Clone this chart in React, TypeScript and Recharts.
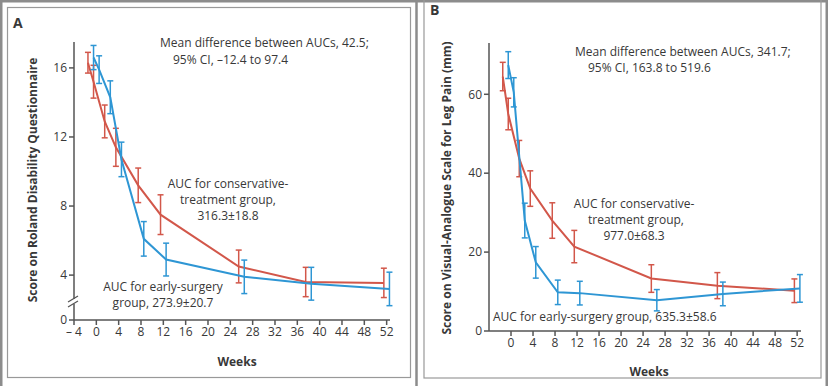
import { LineChart, Line, XAxis, YAxis, ErrorBar } from 'recharts';

// nominal visit weeks, nudged apart so the error bars do not overlap
const WEEKS_CONSERVATIVE = [-1.5, -0.5, 1.5, 3.5, 7.5, 11.5, 25.5, 37.5, 51.5];
const WEEKS_SURGERY = [-0.5, 0.5, 2.5, 4.5, 8.5, 12.5, 26.5, 38.5, 52.5];

// Panel A: Roland Disability Questionnaire
const RDQ_CONSERVATIVE = [16.3, 15.2, 12.9, 11.4, 9.2, 7.5, 4.5, 3.6, 3.55];
const RDQ_CONSERVATIVE_ERR = [0.6, 0.95, 0.95, 1.1, 1.0, 1.15, 0.95, 0.85, 0.85];
const RDQ_SURGERY = [16.6, 15.9, 14.3, 10.7, 6.1, 4.9, 3.9, 3.5, 3.2];
const RDQ_SURGERY_ERR = [0.7, 0.8, 0.95, 1.0, 1.0, 0.95, 0.97, 0.95, 0.97];

// Panel B: visual-analogue scale for leg pain (mm)
const VAS_CONSERVATIVE = [64.5, 55, 43.7, 36.1, 28, 21.4, 13.3, 11.5, 10.2];
const VAS_CONSERVATIVE_ERR = [3.6, 4.0, 4.6, 4.5, 4.5, 4.1, 3.5, 3.3, 3.0];
const VAS_SURGERY = [67.4, 60.5, 28, 17.4, 9.8, 9.6, 7.8, 9.4, 10.8];
const VAS_SURGERY_ERR = [3.4, 3.7, 4.4, 4.0, 3.1, 3.0, 2.7, 3.0, 3.5];

const X_TICKS_A = [-4, 0, 4, 8, 12, 16, 20, 24, 28, 32, 36, 40, 44, 48, 52];
const X_TICKS_B = [0, 4, 8, 12, 16, 20, 24, 28, 32, 36, 40, 44, 48, 52];
// the A axis is broken below 4; its floor is labelled 0
const RDQ_FLOOR = 1.4;
const Y_TICKS_A = [RDQ_FLOOR, 4, 8, 12, 16];
const Y_TICKS_B = [0, 20, 40, 60];

const RED = '#d2574a';
const BLUE = '#2e96d4';
const AXIS = '#555';
const TEXT = '#383838';
const FONT = '"Open Sans", sans-serif';

const rows = (weeks: number[], vals: number[], errs: number[]) =>
  weeks.map((w, i) => ({ week: w, value: vals[i], err: errs[i] }));

const tickStyle = { fill: TEXT, fontSize: 12, fontFamily: FONT };

function Series({ data, color }: { data: any[]; color: string }) {
  return (
    <Line
      data={data}
      dataKey="value"
      type="linear"
      stroke={color}
      strokeWidth={2}
      dot={false}
      isAnimationActive={false}
    >
      <ErrorBar dataKey="err" direction="y" width={3} stroke={color} strokeWidth={1.5} />
    </Line>
  );
}

function Overlay() {
  const t = { fontFamily: FONT, fontSize: 12, fill: TEXT };
  const b = { fontFamily: FONT, fontSize: 12, fontWeight: 700, fill: TEXT };
  return (
    <svg
      width={828}
      height={386}
      style={{ position: 'absolute', left: 0, top: 0, pointerEvents: 'none' }}
    >
      {/* frames */}
      <rect x={1.25} y={1.25} width={825.5} height={400} fill="none" stroke="#8c8c8c" strokeWidth={2.5} />
      <rect x={7.5} y={7.5} width={403} height={370} fill="none" stroke="#999" strokeWidth={1.2} />
      <rect x={424} y={-5} width={397} height={383} fill="none" stroke="#999" strokeWidth={1.2} />
      <line x1={416.5} y1={0} x2={416.5} y2={386} stroke="#8c8c8c" strokeWidth={2.5} />

      <text x={13} y={28} style={{ ...b, fontSize: 14 }}>A</text>
      <text x={430} y={15} style={{ ...b, fontSize: 14 }}>B</text>

      {/* axis break */}
      <rect x={69} y={299} width={10} height={5} fill="#fff" />
      <line x1={68} y1={302} x2={78} y2={296} stroke={AXIS} strokeWidth={1.3} />
      <line x1={68} y1={307} x2={78} y2={301} stroke={AXIS} strokeWidth={1.3} />

      {/* axis titles */}
      <text transform="translate(37,180) rotate(-90)" textAnchor="middle" style={b}>
        Score on Roland Disability Questionnaire
      </text>
      <text x={237} y={366} textAnchor="middle" style={b}>Weeks</text>
      <text transform="translate(451,188) rotate(-90)" textAnchor="middle" style={b}>
        Score on Visual-Analogue Scale for Leg Pain (mm)
      </text>
      <text x={649} y={376} textAnchor="middle" style={b}>Weeks</text>

      {/* panel A notes */}
      <text x={160} y={47} style={t}>Mean difference between AUCs, 42.5;</text>
      <text x={173} y={64} style={t}>95% CI, –12.4 to 97.4</text>
      <text x={228} y={188} textAnchor="middle" style={t}>AUC for conservative-</text>
      <text x={228} y={204} textAnchor="middle" style={t}>treatment group,</text>
      <text x={228} y={220} textAnchor="middle" style={t}>316.3±18.8</text>
      <text x={163} y={291} textAnchor="middle" style={t}>AUC for early-surgery</text>
      <text x={163} y={307} textAnchor="middle" style={t}>group, 273.9±20.7</text>

      {/* panel B notes */}
      <text x={575} y={56} style={t}>Mean difference between AUCs, 341.7;</text>
      <text x={588} y={72} style={t}>95% CI, 163.8 to 519.6</text>
      <text x={634} y={208} textAnchor="middle" style={t}>AUC for conservative-</text>
      <text x={636} y={224} textAnchor="middle" style={t}>treatment group,</text>
      <text x={634} y={240} textAnchor="middle" style={t}>977.0±68.3</text>
      <text x={493} y={321} style={t}>AUC for early-surgery group, 635.3±58.6</text>
    </svg>
  );
}

export default function App() {
  return (
    <div style={{ position: 'absolute', left: 0, top: 0, width: 828, height: 386, background: '#fff' }}>
      <div style={{ position: 'absolute', left: 0, top: 0 }}>
        <LineChart width={415} height={386} margin={{ top: 42, right: 25, bottom: 36, left: 34 }}>
          <XAxis
            dataKey="week"
            type="number"
            domain={[-4, 52.6]}
            ticks={X_TICKS_A}
            tickFormatter={(v: number) => (v === -4 ? '– 4' : String(v))}
            height={30}
            stroke={AXIS}
            strokeWidth={1.5}
            tickSize={5}
            tick={tickStyle}
            allowDecimals
          />
          <YAxis
            type="number"
            domain={[RDQ_FLOOR, 17.5]}
            ticks={Y_TICKS_A}
            tickFormatter={(v: number) => (v === RDQ_FLOOR ? '0' : String(v))}
            width={40}
            stroke={AXIS}
            strokeWidth={1.5}
            tickSize={5}
            tick={tickStyle}
            allowDataOverflow
          />
          <Series data={rows(WEEKS_CONSERVATIVE, RDQ_CONSERVATIVE, RDQ_CONSERVATIVE_ERR)} color={RED} />
          <Series data={rows(WEEKS_SURGERY, RDQ_SURGERY, RDQ_SURGERY_ERR)} color={BLUE} />
        </LineChart>
      </div>
      <div style={{ position: 'absolute', left: 415, top: 0 }}>
        <LineChart width={413} height={386} margin={{ top: 43, right: 27, bottom: 25, left: 34 }}>
          <XAxis
            dataKey="week"
            type="number"
            domain={[-4, 52.7]}
            ticks={X_TICKS_B}
            height={30}
            stroke={AXIS}
            strokeWidth={1.5}
            tickSize={5}
            tick={tickStyle}
          />
          <YAxis
            type="number"
            domain={[0, 73]}
            ticks={Y_TICKS_B}
            width={40}
            stroke={AXIS}
            strokeWidth={1.5}
            tickSize={5}
            tick={tickStyle}
          />
          <Series data={rows(WEEKS_CONSERVATIVE, VAS_CONSERVATIVE, VAS_CONSERVATIVE_ERR)} color={RED} />
          <Series data={rows(WEEKS_SURGERY, VAS_SURGERY, VAS_SURGERY_ERR)} color={BLUE} />
        </LineChart>
      </div>
      <Overlay />
    </div>
  );
}
